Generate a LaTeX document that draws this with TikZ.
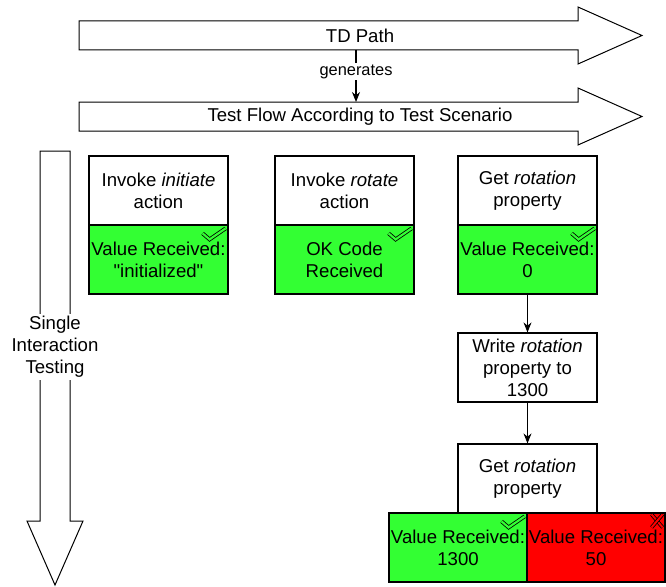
\documentclass[tikz,border=0pt]{standalone}
\usepackage{fontspec}
\setmainfont{Liberation Sans}
\usetikzlibrary{arrows.meta}
\definecolor{passgreen}{RGB}{51,255,51}
\definecolor{failred}{RGB}{255,0,0}
\tikzset{
	cell/.style={draw, line width=1.2pt, minimum width=139pt, minimum height=69pt, inner sep=0pt, align=center},
	askcell/.style={cell, fill=white},
	passcell/.style={cell, fill=passgreen},
	failcell/.style={cell, fill=failred},
	bigarrow/.style={draw, line width=1pt, fill=white, line join=miter},
	flow/.style={draw, line width=1.2pt, -{Stealth[length=10pt,width=8pt]}},
	tick/.style={line width=0.8pt, double=passgreen, double distance=2.2pt},
	cross/.style={line width=0.8pt, double=failred, double distance=2pt}
}

\begin{document}
\begin{tikzpicture}[x=1pt,y=-1pt,font=\fontsize{18.6}{22}\selectfont]
			\useasboundingbox (0,0) rectangle (666,586);
			%Top arrows
			\draw[bigarrow] (79,21)--(578,21)--(578,7)--(642,35.5)--(578,64)--(578,50)--(79,50)--cycle;
			\node (tdpath) at (360,35.5) {TD Path};
			\draw[bigarrow] (79,102)--(578,102)--(578,88)--(642,116.5)--(578,145)--(578,131)--(79,131)--cycle;
			\node (testflow) at (360,116.5) {Test Flow According to Test Scenario};
			\coordinate (tdfoot) at (356,50);
			\coordinate (flowhead) at (356,102);
			\draw[flow] (tdfoot) -- node[pos=0.42, fill=white, inner sep=1.5pt, font=\fontsize{16.4}{19}\selectfont] {generates} (flowhead);
			%Left arrow
			\draw[bigarrow] (40,151)--(70,151)--(70,521)--(83,521)--(55,585)--(27,521)--(40,521)--cycle;
			\node[fill=white, align=center, inner sep=2pt] (sit) at (55,347) {Single\\Interaction\\Testing};
			%Column 1
			\node[askcell] (initq) at (158.5,190.5) {Invoke \textit{initiate}\\action};
			\node[passcell] (inita) at (158.5,259.5) {Value Received:\\\textquotedbl initialized\textquotedbl};
			\draw[tick] ([shift={(-26,9)}]inita.north east) -- ++(7,6) -- ++(16,-11);
			%Column 2
			\node[askcell] (rotq) at (344.5,190.5) {Invoke \textit{rotate}\\action};
			\node[passcell] (rota) at (344.5,259.5) {OK Code\\Received};
			\draw[tick] ([shift={(-26,9)}]rota.north east) -- ++(7,6) -- ++(16,-11);
			%Column 3
			\node[askcell] (getq) at (527.5,190.5) {Get \textit{rotation}\\property};
			\node[passcell] (geta) at (527.5,259.5) {Value Received:\\0};
			\draw[tick] ([shift={(-26,9)}]geta.north east) -- ++(7,6) -- ++(16,-11);
			\node[askcell] (writeq) at (527.5,367.5) {Write \textit{rotation}\\property to\\1300};
			\node[askcell] (getq2) at (527.5,478.5) {Get \textit{rotation}\\property};
			\node[passcell, minimum width=138pt] (passa) at (458,547.5) {Value Received:\\1300};
			\node[failcell, minimum width=138pt] (faila) at (596,547.5) {Value Received:\\50};
			\draw[tick] ([shift={(-26,9)}]passa.north east) -- ++(7,6) -- ++(16,-11);
			\draw[cross] ([shift={(-14,2)}]faila.north east) -- ++(11,13);
			\draw[cross] ([shift={(-3,2)}]faila.north east) -- ++(-11,13);
			\draw[flow] (geta) -- (writeq);
			\draw[flow] (writeq) -- (getq2);
\end{tikzpicture}
\end{document}
